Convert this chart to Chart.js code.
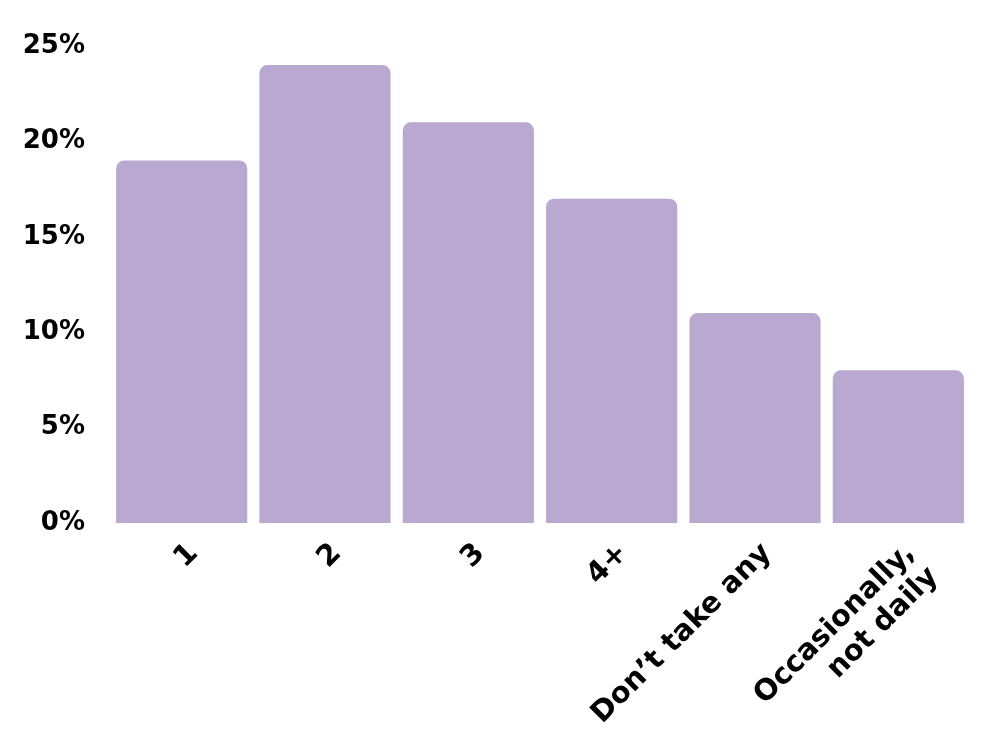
<!DOCTYPE html>
<html>
<head>
<meta charset="utf-8">
<script src="https://cdn.jsdelivr.net/npm/chart.js"></script>
<style>
  html, body { margin: 0; padding: 0; background: #fff; }
  #wrap { width: 1000px; height: 750px; }
</style>
</head>
<body>
<div id="wrap"><canvas id="chart" width="1000" height="750"></canvas></div>
<script>
// categories and values (percent)
const categories = ['1', '2', '3', '4+', 'Don\u2019t take any', ['Occasionally,', 'not daily']];
const shares = [19, 24, 21, 17, 11, 8];
const yTicks = [0, 5, 10, 15, 20, 25];

const barColor = '#b9a8d0';
const fontFamily = '"DejaVu Sans", sans-serif';

new Chart(document.getElementById('chart'), {
  type: 'bar',
  data: {
    labels: categories,
    datasets: [{
      data: shares,
      backgroundColor: barColor,
      borderRadius: { topLeft: 8, topRight: 8, bottomLeft: 0, bottomRight: 0 },
      borderSkipped: 'bottom',
      categoryPercentage: 1,
      barPercentage: 0.915
    }]
  },
  options: {
    responsive: false,
    animation: false,
    layout: { padding: { left: 0, right: 30, top: 46, bottom: 0 } },
    plugins: { legend: { display: false }, tooltip: { enabled: false } },
    scales: {
      x: {
        grid: { display: false },
        border: { display: false },
        afterFit: axis => { axis.height = 227; },
        ticks: {
          color: '#000',
          maxRotation: 45,
          minRotation: 45,
          padding: 6,
          labelOffset: 12,
          font: { family: fontFamily, size: 29, weight: 'bold', lineHeight: 1.15 }
        }
      },
      y: {
        min: 0,
        max: 25,
        grid: { display: false },
        border: { display: false },
        afterBuildTicks: axis => { axis.ticks = yTicks.map(v => ({ value: v })); },
        afterFit: axis => { axis.width = 110; },
        ticks: {
          color: '#000',
          padding: 17,
          font: { family: fontFamily, size: 26, weight: 'bold' },
          callback: v => v + '%'
        }
      }
    }
  }
});
</script>
</body>
</html>
